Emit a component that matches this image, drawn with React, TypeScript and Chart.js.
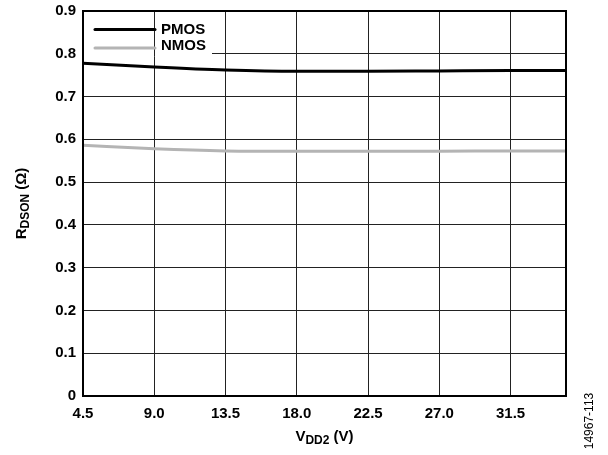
import React, { useEffect, useRef } from "react";
import { Chart, registerables } from "chart.js";

Chart.register(...registerables);

const vdd2 = [4.5, 9.0, 13.5, 18.0, 22.5, 27.0, 31.5, 35.0];
const pmos = [0.778, 0.769, 0.762, 0.759, 0.759, 0.760, 0.761, 0.761];
const nmos = [0.586, 0.578, 0.573, 0.572, 0.572, 0.572, 0.573, 0.573];
const xTicks = [4.5, 9.0, 13.5, 18.0, 22.5, 27.0, 31.5];
const yTicks = [0, 0.1, 0.2, 0.3, 0.4, 0.5, 0.6, 0.7, 0.8, 0.9];
const seriesNames = ["PMOS", "NMOS"];
const seriesColors = ["#000000", "#b4b4b4"];

const FONT = "'Liberation Sans', Arial, Helvetica, sans-serif";

type Seg = { t: string; size: number; dy: number };

function drawSegs(ctx: CanvasRenderingContext2D, segs: Seg[], cx: number, y: number) {
  let total = 0;
  for (const s of segs) {
    ctx.font = `bold ${s.size}px ${FONT}`;
    total += ctx.measureText(s.t).width;
  }
  let x = cx - total / 2;
  ctx.textAlign = "left";
  ctx.textBaseline = "alphabetic";
  for (const s of segs) {
    ctx.font = `bold ${s.size}px ${FONT}`;
    ctx.fillText(s.t, x, y + s.dy);
    x += ctx.measureText(s.t).width;
  }
}

const decorPlugin = {
  id: "decor",
  beforeDatasetsDraw(chart: any) {
    const ctx = chart.ctx as CanvasRenderingContext2D;
    const xs = chart.scales.x;
    const ys = chart.scales.y;
    const area = chart.chartArea;
    ctx.save();
    const lx0 = area.left + 1;
    const lx1 = area.left + 129;
    const ly0 = area.top + 1;
    const ly1 = ys.getPixelForValue(0.8) + 3;
    ctx.fillStyle = "#ffffff";
    ctx.fillRect(lx0, ly0, lx1 - lx0, ly1 - ly0);
    const gx = Math.round(xs.getPixelForValue(9.0)) + 0.5;
    ctx.strokeStyle = "#222";
    ctx.lineWidth = 1;
    ctx.beginPath();
    ctx.moveTo(gx, ly0);
    ctx.lineTo(gx, ly1);
    ctx.stroke();
    const rows = [area.top + 18.5, area.top + 37];
    for (let i = 0; i < seriesNames.length; i++) {
      ctx.strokeStyle = seriesColors[i];
      ctx.lineWidth = 3;
      ctx.lineCap = "round";
      ctx.beginPath();
      ctx.moveTo(area.left + 12, rows[i]);
      ctx.lineTo(area.left + 72, rows[i]);
      ctx.stroke();
      ctx.fillStyle = "#000";
      ctx.font = `bold 15px ${FONT}`;
      ctx.textAlign = "left";
      ctx.textBaseline = "middle";
      ctx.fillText(seriesNames[i], area.left + 78, rows[i] + (i === 1 ? -2 : 0));
    }
    ctx.restore();
  },
  afterDraw(chart: any) {
    const ctx = chart.ctx as CanvasRenderingContext2D;
    const area = chart.chartArea;
    ctx.save();
    ctx.strokeStyle = "#000";
    ctx.lineWidth = 2;
    ctx.strokeRect(area.left, area.top, area.right - area.left, area.bottom - area.top);
    ctx.fillStyle = "#000";
    drawSegs(
      ctx,
      [
        { t: "V", size: 15, dy: 0 },
        { t: "DD2", size: 12, dy: 3 },
        { t: " (V)", size: 15, dy: 0 },
      ],
      (area.left + area.right) / 2,
      441
    );
    ctx.save();
    ctx.translate(26, (area.top + area.bottom) / 2);
    ctx.rotate(-Math.PI / 2);
    drawSegs(
      ctx,
      [
        { t: "R", size: 15, dy: 0 },
        { t: "DSON", size: 12, dy: 3 },
        { t: " (Ω)", size: 15, dy: 0 },
      ],
      0,
      0
    );
    ctx.restore();
    ctx.save();
    ctx.translate(593, 421);
    ctx.rotate(-Math.PI / 2);
    ctx.font = `12px ${FONT}`;
    ctx.textAlign = "center";
    ctx.textBaseline = "alphabetic";
    ctx.fillStyle = "#000";
    ctx.fillText("14967-113", 0, 0);
    ctx.restore();
    ctx.restore();
  },
};

export default function App() {
  const ref = useRef<HTMLCanvasElement | null>(null);
  useEffect(() => {
    if (!ref.current) return;
    const chart = new Chart(ref.current, {
      type: "line",
      data: {
        datasets: [
          {
            label: seriesNames[0],
            data: vdd2.map((x, i) => ({ x, y: pmos[i] })),
            borderColor: seriesColors[0],
            borderWidth: 3,
            pointRadius: 0,
            cubicInterpolationMode: "monotone",
            fill: false,
          },
          {
            label: seriesNames[1],
            data: vdd2.map((x, i) => ({ x, y: nmos[i] })),
            borderColor: seriesColors[1],
            borderWidth: 3,
            pointRadius: 0,
            cubicInterpolationMode: "monotone",
            fill: false,
          },
        ],
      },
      options: {
        responsive: false,
        animation: false,
        events: [],
        layout: { padding: { top: 11, right: 42, left: 0, bottom: 0 } },
        plugins: {
          legend: { display: false },
          tooltip: { enabled: false },
        },
        scales: {
          x: {
            type: "linear",
            min: 4.5,
            max: 35,
            afterBuildTicks: (s: any) => {
              s.ticks = xTicks.map((v) => ({ value: v }));
            },
            afterFit: (s: any) => {
              s.height = 59;
              s.paddingLeft = 0;
              s.paddingRight = 0;
            },
            ticks: {
              autoSkip: false,
              maxRotation: 0,
              color: "#000",
              padding: 9,
              font: { family: FONT, size: 15, weight: "bold" },
              callback: (v: any) => Number(v).toFixed(1),
            },
            grid: { color: "#222", lineWidth: 1, drawTicks: false },
            border: { display: false },
          },
          y: {
            type: "linear",
            min: 0,
            max: 0.9,
            afterBuildTicks: (s: any) => {
              s.ticks = yTicks.map((v) => ({ value: v }));
            },
            afterFit: (s: any) => {
              s.width = 83;
              s.paddingTop = 0;
              s.paddingBottom = 0;
            },
            ticks: {
              color: "#000",
              padding: 7,
              font: { family: FONT, size: 15, weight: "bold" },
              callback: (v: any) => (Number(v) === 0 ? "0" : Number(v).toFixed(1)),
            },
            grid: { color: "#222", lineWidth: 1, drawTicks: false },
            border: { display: false },
          },
        },
      },
      plugins: [decorPlugin],
    } as any);
    return () => chart.destroy();
  }, []);
  return (
    <div style={{ position: "absolute", left: 0, top: 0, width: 608, height: 455, background: "#fff" }}>
      <canvas ref={ref} width={608} height={455} />
    </div>
  );
}
